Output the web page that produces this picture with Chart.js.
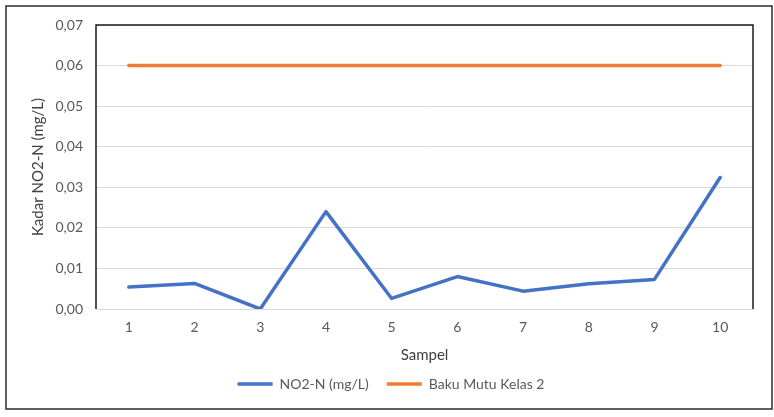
<!DOCTYPE html>
<html>
<head>
<meta charset="utf-8">
<script src="https://cdn.jsdelivr.net/npm/chart.js@4.4.1/dist/chart.umd.min.js"></script>
<style>
  html, body { margin: 0; padding: 0; background: #ffffff; }
  #wrap { width: 774px; height: 417px; }
</style>
</head>
<body>
<div id="wrap"><canvas id="c" width="774" height="417"></canvas></div>
<script>
// Sample numbers along the x axis
const samples = ['1', '2', '3', '4', '5', '6', '7', '8', '9', '10'];
// Measured nitrite nitrogen per sample (mg/L)
const no2n = [0.0054, 0.0063, 0.0000, 0.0240, 0.0026, 0.0080, 0.0044, 0.0062, 0.0073, 0.0324];
// Class 2 water quality standard (mg/L)
const bakuMutu = [0.06, 0.06, 0.06, 0.06, 0.06, 0.06, 0.06, 0.06, 0.06, 0.06];
// Y axis tick values and their labels
const yTickValues = [0, 0.01, 0.02, 0.03, 0.04, 0.05, 0.06, 0.07];
const yTickLabels = ['0,00', '0,01', '0,02', '0,03', '0,04', '0,05', '0,06', '0,07'];

const FONT = 'Lato, "Open Sans", sans-serif';
const TEXT = '#595959';

// Frame around the plot area (left, top, right) and the outer chart border
const frames = {
  id: 'frames',
  afterDraw(chart) {
    const { ctx, chartArea: a } = chart;
    ctx.save();
    ctx.strokeStyle = '#1a1a1a';
    ctx.lineWidth = 1.5;
    ctx.beginPath();
    ctx.moveTo(a.left, a.bottom);
    ctx.lineTo(a.left, a.top);
    ctx.lineTo(a.right, a.top);
    ctx.lineTo(a.right, a.bottom);
    ctx.stroke();
    ctx.strokeStyle = '#2b2b2b';
    ctx.lineWidth = 1.5;
    ctx.strokeRect(6, 6, 766, 403);
    ctx.restore();
  }
};

new Chart(document.getElementById('c'), {
  type: 'line',
  data: {
    labels: samples,
    datasets: [
      {
        label: 'NO2-N (mg/L)',
        data: no2n,
        borderColor: '#4472C4',
        backgroundColor: '#4472C4',
        borderWidth: 3.5,
        pointRadius: 0,
        tension: 0,
        borderCapStyle: 'round',
        borderJoinStyle: 'round',
        pointStyle: 'line'
      },
      {
        label: 'Baku Mutu Kelas 2',
        data: bakuMutu,
        borderColor: '#ED7D31',
        backgroundColor: '#ED7D31',
        borderWidth: 3.5,
        pointRadius: 0,
        tension: 0,
        borderCapStyle: 'round',
        pointStyle: 'line'
      }
    ]
  },
  options: {
    responsive: false,
    animation: false,
    devicePixelRatio: 1,
    layout: { padding: { top: 25, right: 0, bottom: 16, left: 8 } },
    plugins: {
      tooltip: { enabled: false },
      legend: {
        position: 'bottom',
        labels: {
          usePointStyle: true,
          pointStyleWidth: 35,
          padding: 18,
          color: TEXT,
          font: { family: FONT, size: 14 }
        }
      }
    },
    scales: {
      x: {
        offset: true,
        grid: { display: false, drawTicks: false },
        border: { display: true, color: '#d9d9d9', width: 1 },
        ticks: { color: TEXT, font: { family: FONT, size: 14 }, padding: 10, maxRotation: 0 },
        title: {
          display: true,
          text: 'Sampel',
          color: '#404040',
          font: { family: FONT, size: 15 },
          padding: { top: 0, bottom: -5 }
        },
        afterFit(scale) { scale.height = 50; }
      },
      y: {
        min: 0,
        max: 0.07,
        afterBuildTicks(scale) { scale.ticks = yTickValues.map(v => ({ value: v })); },
        grid: { color: '#d9d9d9', lineWidth: 1, drawTicks: false },
        border: { display: false },
        ticks: {
          color: TEXT,
          font: { family: FONT, size: 14 },
          padding: 13,
          callback: (v) => yTickLabels[yTickValues.findIndex(t => Math.abs(t - v) < 1e-9)]
        },
        title: {
          display: true,
          text: 'Kadar NO2-N (mg/L)',
          color: '#404040',
          font: { family: FONT, size: 15 },
          padding: { top: 21, bottom: 0 }
        },
        afterFit(scale) { scale.width = 88; }
      },
      // empty margin on the right of the plot area
      margin: {
        position: 'right',
        display: true,
        grid: { display: false, drawTicks: false },
        border: { display: false },
        ticks: { display: false },
        afterFit(scale) { scale.width = 21; }
      }
    }
  },
  plugins: [frames]
});
</script>
</body>
</html>
